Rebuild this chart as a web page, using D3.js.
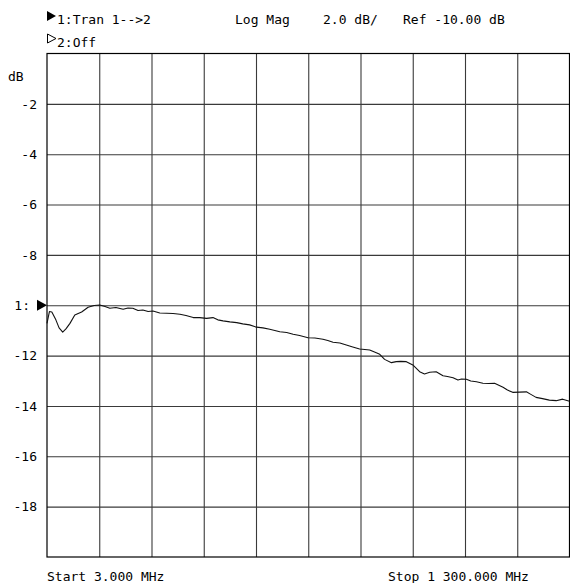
<!DOCTYPE html>
<html>
<head>
<meta charset="utf-8">
<script src="https://cdn.jsdelivr.net/npm/d3@7"></script>
<style>
  html, body { margin: 0; padding: 0; background: #fff; }
  svg text { font-family: "DejaVu Sans Mono", "Liberation Mono", monospace; font-size: 13px; fill: #000; }
</style>
</head>
<body>
<svg id="chart" width="570" height="583"></svg>
<script>
// ---- data ----
const freqMHz = [3, 9, 15, 25, 33, 42, 50, 60, 72, 89, 105, 120, 134, 147, 159, 174, 192, 204, 216, 229, 241, 254, 266, 283, 300, 316, 333, 348, 366, 382, 399, 415, 427, 440, 457, 474, 489, 506, 523, 539, 556, 581, 598, 614, 630, 651, 668, 688, 700, 713, 730, 746, 762, 779, 792, 804, 816, 829, 841, 858, 870, 881, 895, 911, 928, 940, 953, 969, 986, 997, 1011, 1023, 1032, 1044, 1055, 1069, 1085, 1099, 1114, 1135, 1146, 1159, 1176, 1193, 1203, 1217, 1233, 1250, 1267, 1283, 1300];
const magDB = [-10.72, -10.25, -10.27, -10.58, -10.90, -11.07, -10.94, -10.72, -10.39, -10.27, -10.08, -10.01, -9.99, -10.05, -10.12, -10.09, -10.16, -10.11, -10.12, -10.21, -10.19, -10.25, -10.23, -10.31, -10.32, -10.33, -10.36, -10.41, -10.49, -10.49, -10.52, -10.49, -10.58, -10.62, -10.66, -10.69, -10.74, -10.78, -10.87, -10.90, -10.95, -11.05, -11.08, -11.15, -11.20, -11.29, -11.30, -11.35, -11.40, -11.47, -11.50, -11.58, -11.66, -11.74, -11.76, -11.78, -11.86, -11.95, -12.15, -12.28, -12.24, -12.23, -12.24, -12.37, -12.64, -12.73, -12.66, -12.64, -12.80, -12.83, -12.88, -12.97, -12.93, -12.94, -13.01, -13.04, -13.10, -13.11, -13.10, -13.26, -13.37, -13.46, -13.45, -13.44, -13.53, -13.66, -13.71, -13.77, -13.79, -13.73, -13.81];
const yTickValues = [-2, -4, -6, -8, -10, -12, -14, -16, -18];
const yGridValues = [-2, -4, -6, -8, -10, -12, -14, -16, -18];
const xGridValues = [132.7, 262.4, 392.1, 521.8, 651.5, 781.2, 910.9, 1040.6, 1170.3];
const refLevel = -10;
const startMHz = 3, stopMHz = 1300;
const header1 = "1:Tran 1-->2";
const header2 = "2:Off";
const headerFormat = "Log Mag";
const headerScale = "2.0 dB/";
const headerRef = "Ref -10.00 dB";
const unitLabel = "dB";
const startLabel = "Start 3.000 MHz";
const stopLabel = "Stop 1 300.000 MHz";

// ---- layout ----
const svg = d3.select("#chart");
const L = 47, R = 569.5, T = 53.5, B = 557;
const x = d3.scaleLinear().domain([startMHz, stopMHz]).range([L, R]);
const y = d3.scaleLinear().domain([-20, 0]).range([B, T]);

// grid
const gx = svg.append("g").attr("transform", `translate(0,${B})`)
  .call(d3.axisBottom(x).tickValues(xGridValues).tickSize(-(B - T)).tickFormat(""));
gx.select(".domain").remove();
gx.selectAll("line").attr("stroke", "#3a3a3a").attr("stroke-width", 1.1);

const gy = svg.append("g").attr("transform", `translate(${L},0)`)
  .call(d3.axisLeft(y).tickValues(yGridValues).tickSize(-(R - L)).tickFormat(""));
gy.select(".domain").remove();
gy.selectAll("line").attr("stroke", "#3a3a3a").attr("stroke-width", 1.1);

// border
svg.append("rect").attr("x", L).attr("y", T).attr("width", R - L).attr("height", B - T)
  .attr("fill", "none").attr("stroke", "#000").attr("stroke-width", 1.2);

// y labels
const gl = svg.append("g").attr("transform", `translate(${L},0)`)
  .call(d3.axisLeft(y).tickValues(yTickValues).tickSize(0).tickPadding(10)
    .tickFormat(d => d === refLevel ? "1:" : String(d)));
gl.select(".domain").remove();
gl.selectAll("text").attr("font-family", "DejaVu Sans Mono, monospace").attr("font-size", 13).attr("fill", "#000");
gl.selectAll(".tick").filter(d => d === refLevel).select("text").attr("dx", -7);

// ref marker
const ry = y(refLevel);
svg.append("path").attr("d", `M${L - 10},${ry - 5.5}L${L},${ry}L${L - 10},${ry + 5.5}Z`).attr("fill", "#000");

svg.append("text").attr("x", 8).attr("y", 81).text(unitLabel);

// trace
const line = d3.line().x((d, i) => x(freqMHz[i])).y(d => y(d));
svg.append("path").datum(magDB).attr("d", line)
  .attr("fill", "none").attr("stroke", "#111").attr("stroke-width", 1.1).attr("stroke-linejoin", "round");

// header
svg.append("path").attr("d", "M47,11L56,16L47,21Z").attr("fill", "#000");
svg.append("text").attr("x", 57).attr("y", 24).text(header1);
svg.append("path").attr("d", "M47.5,34L56,38.5L47.5,43Z").attr("fill", "none").attr("stroke", "#000").attr("stroke-width", 1);
svg.append("text").attr("x", 57).attr("y", 46.5).text(header2);
svg.append("text").attr("x", 235).attr("y", 24).text(headerFormat);
svg.append("text").attr("x", 323).attr("y", 24).text(headerScale);
svg.append("text").attr("x", 403).attr("y", 24).text(headerRef);

// footer
svg.append("text").attr("x", 47).attr("y", 581).text(startLabel);
svg.append("text").attr("x", 388).attr("y", 581).text(stopLabel);
</script>
</body>
</html>
